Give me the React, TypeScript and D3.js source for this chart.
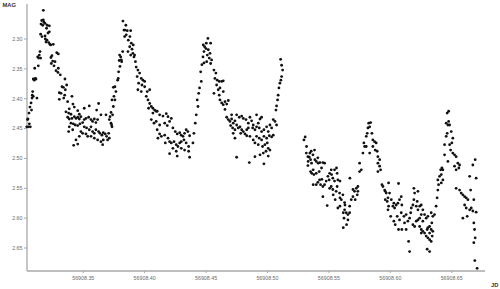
import React from 'react';
import * as d3 from 'd3';

// Julian date base; point times are stored as fractions of the day after JD0
const JD0 = 56908;

// [JD - JD0, magnitude]
const cycle1: [number, number][] = [
  [0.3040,2.447],[0.3046,2.435],[0.3050,2.434],[0.3054,2.447],[0.3058,2.424],[0.3061,2.442],[0.3066,2.414],[0.3069,2.447],[0.3075,2.407],[0.3079,2.419],[0.3083,2.399],[0.3085,2.394],[0.3088,2.388],[0.3093,2.396],[0.3093,2.367],[0.3101,2.369],[0.3105,2.349],[0.3110,2.366],[0.3115,2.367],[0.3123,2.399],[0.3129,2.330],[0.3134,2.345],[0.3137,2.332],[0.3142,2.327],[0.3148,2.321],[0.3153,2.332],
  [0.3153,2.292],[0.3156,2.275],[0.3162,2.269],[0.3164,2.296],[0.3170,2.277],[0.3175,2.252],[0.3175,2.268],[0.3180,2.272],[0.3189,2.274],[0.3189,2.295],[0.3191,2.300],[0.3197,2.305],[0.3201,2.282],[0.3205,2.302],[0.3207,2.277],[0.3213,2.290],[0.3219,2.306],[0.3224,2.278],[0.3224,2.288],[0.3229,2.309],[0.3235,2.310],[0.3256,2.309],
  [0.3237,2.331],[0.3240,2.341],[0.3245,2.328],[0.3251,2.337],[0.3262,2.345],[0.3270,2.338],[0.3278,2.353],[0.3284,2.323],[0.3294,2.356],[0.3297,2.325],[0.3297,2.349],[0.3305,2.390],[0.3305,2.401],[0.3313,2.360],[0.3319,2.391],[0.3327,2.380],[0.3338,2.381],[0.3341,2.399],[0.3349,2.394],[0.3351,2.367],[0.3354,2.385],[0.3365,2.377],
  [0.3359,2.422],[0.3373,2.405],[0.3373,2.431],[0.3381,2.424],[0.3381,2.455],[0.3386,2.417],[0.3386,2.434],[0.3386,2.447],[0.3400,2.426],[0.3400,2.441],[0.3408,2.396],[0.3408,2.433],[0.3414,2.452],[0.3416,2.409],[0.3419,2.442],[0.3422,2.478],[0.3427,2.414],[0.3427,2.430],[0.3435,2.444],[0.3441,2.433],[0.3441,2.469],[0.3455,2.420],[0.3455,2.431],[0.3455,2.445],[0.3455,2.476],[0.3468,2.426],[0.3468,2.434],[0.3468,2.463],[0.3473,2.442],[0.3481,2.430],[0.3481,2.455],[0.3495,2.440],[0.3495,2.458],[0.3508,2.416],[0.3508,2.435],[0.3508,2.447],[0.3522,2.433],[0.3522,2.459],[0.3527,2.449],[0.3536,2.463],[0.3544,2.431],[0.3549,2.412],[0.3549,2.452],[0.3563,2.435],[0.3563,2.447],[0.3563,2.463],[0.3576,2.438],[0.3576,2.455],[0.3590,2.434],[0.3590,2.458],[0.3590,2.466],[0.3603,2.440],[0.3603,2.452],[0.3609,2.419],[0.3617,2.435],[0.3617,2.469],[0.3625,2.408],[0.3625,2.455],[0.3636,2.458],[0.3644,2.427],[0.3644,2.472],[0.3652,2.461],[0.3658,2.477],[0.3663,2.457],[0.3663,2.469],[0.3679,2.459],[0.3685,2.427],[0.3690,2.463],[0.3698,2.469],[0.3707,2.458],[0.3712,2.435],[0.3712,2.466],[0.3718,2.430],[0.3726,2.441],[0.3734,2.447],
];

const cycle2: [number, number][] = [
  [0.3726,2.423],[0.3731,2.444],[0.3734,2.402],[0.3739,2.427],[0.3745,2.381],[0.3745,2.413],[0.3750,2.396],[0.3758,2.380],[0.3758,2.402],[0.3766,2.388],[0.3780,2.369],[0.3785,2.366],[0.3788,2.355],[0.3793,2.336],[0.3796,2.327],[0.3799,2.346],[0.3805,2.330],[0.3810,2.335],[0.3813,2.338],[0.3821,2.321],
  [0.3823,2.270],[0.3831,2.285],[0.3837,2.296],[0.3840,2.285],[0.3847,2.277],[0.3850,2.293],[0.3858,2.286],[0.3864,2.321],[0.3867,2.302],[0.3878,2.313],[0.3880,2.296],[0.3886,2.286],[0.3886,2.327],[0.3891,2.307],[0.3897,2.317],[0.3904,2.324],[0.3907,2.310],[0.3913,2.330],[0.3918,2.327],
  [0.3925,2.338],[0.3931,2.347],[0.3939,2.363],[0.3945,2.352],[0.3945,2.385],[0.3951,2.374],[0.3959,2.357],[0.3972,2.366],[0.3972,2.388],[0.3978,2.377],[0.3986,2.369],[0.4000,2.371],[0.4000,2.380],[0.4013,2.396],[0.4021,2.388],[0.4027,2.402],[0.4032,2.416],[0.4041,2.385],[0.4041,2.408],[0.4054,2.413],[0.4067,2.416],[0.4081,2.419],[0.4094,2.421],
  [0.4054,2.435],[0.4067,2.424],[0.4076,2.441],[0.4094,2.438],[0.4102,2.421],[0.4102,2.452],[0.4108,2.466],[0.4122,2.427],[0.4122,2.444],[0.4122,2.459],[0.4136,2.463],[0.4149,2.429],[0.4163,2.441],[0.4163,2.461],[0.4168,2.474],[0.4176,2.425],[0.4184,2.445],[0.4190,2.430],[0.4190,2.466],[0.4203,2.438],[0.4203,2.472],[0.4203,2.492],[0.4217,2.433],[0.4217,2.474],[0.4230,2.449],[0.4230,2.483],[0.4239,2.472],[0.4249,2.455],[0.4257,2.477],[0.4257,2.488],[0.4265,2.459],[0.4265,2.496],[0.4271,2.480],[0.4285,2.457],[0.4285,2.474],[0.4298,2.461],[0.4298,2.472],[0.4298,2.483],[0.4312,2.463],[0.4320,2.469],[0.4325,2.458],[0.4325,2.486],[0.4338,2.452],[0.4338,2.474],[0.4352,2.455],[0.4358,2.480],[0.4358,2.488],[0.4366,2.462],[0.4366,2.498],
];

const cycle3: [number, number][] = [
  [0.4393,2.474],[0.4401,2.458],[0.4412,2.441],[0.4420,2.427],[0.4428,2.402],[0.4434,2.413],[0.4440,2.391],[0.4447,2.382],[0.4456,2.355],[0.4461,2.371],[0.4466,2.343],[0.4475,2.330],[0.4477,2.310],[0.4483,2.321],[0.4483,2.340],[0.4488,2.313],[0.4499,2.316],[0.4502,2.307],[0.4505,2.338],[0.4510,2.327],[0.4515,2.299],[0.4518,2.318],[0.4526,2.332],[0.4532,2.324],[0.4537,2.341],[0.4545,2.335],
  [0.4537,2.307],[0.4564,2.352],[0.4564,2.391],[0.4572,2.366],[0.4580,2.357],[0.4586,2.377],[0.4591,2.369],[0.4599,2.385],[0.4607,2.371],[0.4607,2.394],[0.4613,2.382],[0.4613,2.402],[0.4627,2.371],[0.4627,2.407],[0.4640,2.370],[0.4640,2.388],[0.4640,2.410],[0.4654,2.405],[0.4654,2.418],[0.4668,2.409],[0.4681,2.403],
  [0.4668,2.431],[0.4681,2.435],[0.4694,2.438],[0.4700,2.445],[0.4708,2.427],[0.4708,2.434],[0.4716,2.449],[0.4721,2.441],[0.4721,2.458],[0.4735,2.437],[0.4735,2.452],[0.4735,2.466],[0.4749,2.427],[0.4749,2.444],[0.4749,2.498],[0.4762,2.449],[0.4770,2.431],[0.4776,2.447],[0.4782,2.458],[0.4790,2.429],[0.4790,2.452],[0.4803,2.433],[0.4803,2.455],[0.4817,2.459],[0.4825,2.435],[0.4831,2.452],[0.4831,2.462],[0.4844,2.441],[0.4844,2.449],[0.4852,2.507],[0.4857,2.431],[0.4857,2.463],[0.4871,2.437],[0.4879,2.449],[0.4884,2.444],[0.4884,2.469],[0.4898,2.452],[0.4898,2.474],[0.4898,2.497],[0.4911,2.427],[0.4911,2.447],[0.4911,2.463],[0.4925,2.441],[0.4925,2.477],[0.4933,2.449],[0.4933,2.466],[0.4939,2.434],[0.4939,2.494],[0.4952,2.431],[0.4952,2.455],[0.4952,2.469],[0.4960,2.480],[0.4966,2.491],[0.4971,2.452],[0.4971,2.463],[0.4971,2.509],[0.4979,2.477],[0.4988,2.488],[0.4993,2.447],[0.4993,2.466],[0.4998,2.474],[0.5006,2.455],[0.5006,2.483],[0.5006,2.496],[0.5015,2.462],[0.5020,2.444],[0.5020,2.486],[0.5034,2.449],[0.5034,2.464],[0.5047,2.461],
  [0.5047,2.435],[0.5061,2.438],[0.5069,2.419],[0.5074,2.412],[0.5074,2.444],[0.5082,2.402],[0.5087,2.394],[0.5093,2.382],[0.5101,2.374],[0.5109,2.369],[0.5115,2.363],[0.5123,2.352],[0.5115,2.344],[0.5107,2.334],
];

const cycle4: [number, number][] = [
  [0.5297,2.469],[0.5307,2.464],[0.5316,2.491],[0.5318,2.480],[0.5329,2.497],[0.5329,2.512],[0.5331,2.505],[0.5340,2.498],[0.5345,2.491],[0.5351,2.502],[0.5351,2.522],[0.5356,2.488],[0.5359,2.508],[0.5361,2.525],[0.5370,2.494],[0.5372,2.519],[0.5372,2.544],[0.5378,2.527],[0.5383,2.486],[0.5386,2.502],[0.5397,2.505],[0.5397,2.525],[0.5397,2.544],[0.5410,2.499],[0.5410,2.540],[0.5413,2.508],[0.5421,2.522],[0.5424,2.536],[0.5427,2.507],[0.5432,2.544],[0.5440,2.516],[0.5443,2.535],[0.5451,2.507],[0.5451,2.547],[0.5451,2.564],[0.5465,2.508],[0.5465,2.544],[0.5478,2.538],[0.5486,2.579],[0.5492,2.530],[0.5502,2.536],[0.5506,2.525],[0.5506,2.550],[0.5519,2.519],[0.5519,2.547],[0.5522,2.527],[0.5532,2.533],[0.5532,2.552],[0.5535,2.561],[0.5546,2.519],[0.5546,2.538],[0.5551,2.569],[0.5559,2.555],[0.5562,2.516],[0.5567,2.525],[0.5567,2.547],[0.5573,2.536],[0.5573,2.583],[0.5587,2.558],[0.5590,2.538],[0.5590,2.566],[0.5590,2.580],[0.5601,2.569],[0.5614,2.561],[0.5628,2.574],
  [0.5617,2.591],[0.5617,2.616],[0.5623,2.600],[0.5628,2.586],[0.5631,2.578],[0.5641,2.591],[0.5644,2.611],[0.5655,2.594],[0.5655,2.603],[0.5669,2.580],[0.5669,2.591],
  [0.5671,2.533],[0.5682,2.569],[0.5696,2.552],[0.5696,2.564],[0.5709,2.555],[0.5714,2.569],[0.5723,2.550],[0.5731,2.561],[0.5736,2.547],[0.5736,2.555],[0.5750,2.508],[0.5750,2.522],[0.5764,2.519],[0.5777,2.491],[0.5785,2.474],[0.5791,2.480],[0.5804,2.463],[0.5804,2.480],[0.5812,2.458],[0.5818,2.449],[0.5824,2.441],[0.5832,2.447],[0.5832,2.491],[0.5840,2.440],[0.5850,2.458],[0.5858,2.469],[0.5858,2.480],[0.5872,2.472],[0.5877,2.486],[0.5885,2.474],[0.5893,2.488],
  [0.5899,2.497],[0.5899,2.508],[0.5899,2.522],[0.5913,2.502],[0.5913,2.513],[0.5921,2.519],[0.5932,2.544],[0.5940,2.547],[0.5954,2.553],[0.5959,2.555],[0.5959,2.569],[0.5967,2.558],[0.5975,2.572],[0.5981,2.566],[0.5981,2.586],[0.5986,2.580],
];

const cycle5: [number, number][] = [
  [0.5986,2.541],[0.5994,2.558],[0.6003,2.597],[0.6008,2.569],[0.6021,2.580],[0.6029,2.575],[0.6029,2.605],[0.6035,2.583],[0.6040,2.611],[0.6048,2.578],[0.6056,2.597],[0.6062,2.575],[0.6067,2.542],[0.6067,2.619],[0.6075,2.569],[0.6075,2.603],[0.6089,2.564],[0.6089,2.591],[0.6094,2.578],[0.6094,2.619],[0.6111,2.597],[0.6116,2.608],[0.6129,2.594],[0.6129,2.619],[0.6143,2.605],[0.6149,2.639],[0.6157,2.600],[0.6157,2.656],[0.6166,2.591],[0.6171,2.583],[0.6184,2.578],[0.6184,2.611],[0.6192,2.550],[0.6192,2.569],[0.6198,2.558],[0.6198,2.614],[0.6211,2.580],[0.6211,2.605],[0.6219,2.572],[0.6225,2.555],[0.6225,2.586],[0.6225,2.603],[0.6239,2.580],[0.6239,2.600],[0.6239,2.614],[0.6252,2.578],[0.6252,2.594],[0.6252,2.619],[0.6252,2.625],[0.6265,2.586],[0.6265,2.605],[0.6265,2.622],[0.6279,2.594],[0.6279,2.625],[0.6292,2.600],[0.6292,2.630],[0.6300,2.619],[0.6300,2.652],[0.6306,2.597],[0.6306,2.616],[0.6306,2.633],[0.6320,2.614],[0.6320,2.625],[0.6320,2.636],[0.6320,2.656],[0.6333,2.591],[0.6333,2.619],[0.6333,2.639],[0.6338,2.608],[0.6341,2.630],[0.6346,2.597],[0.6346,2.622],
  [0.6360,2.594],[0.6373,2.580],[0.6381,2.566],[0.6387,2.553],[0.6393,2.544],[0.6387,2.536],[0.6401,2.530],[0.6410,2.519],[0.6415,2.527],[0.6415,2.541],[0.6420,2.516],[0.6428,2.519],[0.6428,2.536],[0.6442,2.494],[0.6442,2.477],[0.6455,2.463],[0.6455,2.441],[0.6463,2.458],[0.6463,2.424],[0.6469,2.444],[0.6475,2.438],[0.6475,2.421],[0.6469,2.505],[0.6483,2.444],[0.6483,2.477],[0.6491,2.486],[0.6496,2.455],[0.6501,2.474],[0.6509,2.466],[0.6509,2.491],[0.6523,2.494],[0.6523,2.513],[0.6536,2.497],[0.6536,2.519],[0.6550,2.508],[0.6564,2.511],[0.6558,2.516],
  [0.6536,2.550],[0.6564,2.553],[0.6577,2.558],[0.6591,2.561],[0.6591,2.600],[0.6605,2.564],[0.6605,2.578],[0.6618,2.566],[0.6618,2.583],[0.6626,2.597],[0.6632,2.569],[0.6646,2.530],[0.6646,2.586],[0.6654,2.553],[0.6659,2.583],[0.6672,2.511],[0.6672,2.588],[0.6680,2.569],[0.6680,2.608],[0.6686,2.619],[0.6691,2.502],[0.6691,2.633],[0.6699,2.533],[0.6699,2.590],[0.6680,2.641],[0.6688,2.671],[0.6707,2.684],
];

const xTicks = [56908.35, 56908.40, 56908.45, 56908.50, 56908.55, 56908.60, 56908.65];
const yTicks = [2.30, 2.35, 2.40, 2.45, 2.50, 2.55, 2.60, 2.65];
const xTitle = 'JD';
const yTitle = 'MAG';

export default function App() {
  const W = 500;
  const H = 289;
  const left = 27;
  const right = 485;
  const top = 4;
  const bottom = 271;
  const x = d3.scaleLinear().domain([56908.3042, 56908.6771]).range([left, right]);
  const y = d3.scaleLinear().domain([2.2414, 2.6885]).range([top, bottom]);
  const all = [...cycle1, ...cycle2, ...cycle3, ...cycle4, ...cycle5];
  const font = "'Liberation Sans', Arial, sans-serif";
  const axisColor = '#a8a8a8';
  const labelColor = '#6a6a6a';
  return (
    <svg width={W} height={H} style={{ position: 'absolute', left: 0, top: 0, background: '#fff' }}>
      <rect x={0} y={0} width={W} height={H} fill="#fff" />
      <line x1={left} y1={top} x2={left} y2={bottom} stroke={axisColor} strokeWidth={1.3} />
      <line x1={left} y1={bottom} x2={right} y2={bottom} stroke={axisColor} strokeWidth={1.3} />
      {yTicks.map((t) => (
        <g key={'y' + t}>
          <line x1={left - 3} x2={left} y1={y(t)} y2={y(t)} stroke={axisColor} strokeWidth={1} />
          <text x={22.5} y={y(t)} dy="0.35em" textAnchor="end" fontFamily={font} fontSize={5.3} fill={labelColor}>
            {t.toFixed(2)}
          </text>
        </g>
      ))}
      {xTicks.map((t) => (
        <g key={'x' + t}>
          <line x1={x(t)} x2={x(t)} y1={bottom} y2={bottom + 2} stroke={axisColor} strokeWidth={1} />
          <text x={x(t)} y={279.5} textAnchor="middle" fontFamily={font} fontSize={5.3} fill={labelColor}>
            {t.toFixed(2)}
          </text>
        </g>
      ))}
      <text x={2.5} y={6.5} fontFamily={font} fontSize={5.8} fontWeight="bold" fill="#333">{yTitle}</text>
      <text x={491} y={287} fontFamily={font} fontSize={5.8} fontWeight="bold" fill="#333">{xTitle}</text>
      {all.map(([j, m], i) => (
        <circle key={i} cx={x(JD0 + j)} cy={y(m)} r={1.4} fill="#111" />
      ))}
    </svg>
  );
}
